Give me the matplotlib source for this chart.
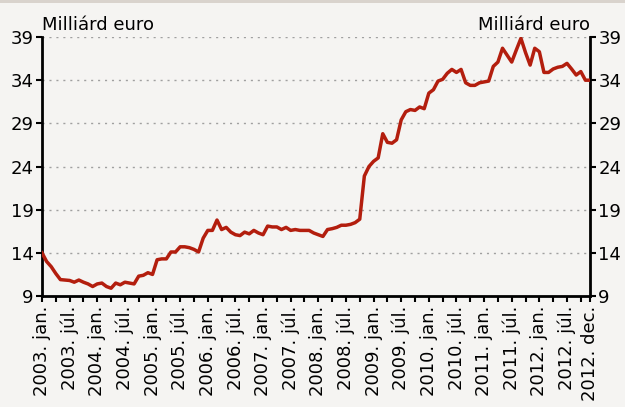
import matplotlib
matplotlib.use("Agg")
import matplotlib.pyplot as plt
from matplotlib.patches import Rectangle

months_hu = ["jan.", "júl."]
years = list(range(2003, 2013))
values = [
    14.0, 13.0, 12.4, 11.6, 10.9, 10.85, 10.8, 10.6, 10.85, 10.6, 10.4, 10.1,
    10.4, 10.5, 10.1, 9.9, 10.5, 10.3, 10.6, 10.5, 10.4, 11.3, 11.4, 11.7,
    11.5, 13.2, 13.3, 13.3, 14.1, 14.1, 14.7, 14.7, 14.6, 14.4, 14.1, 15.7,
    16.6, 16.6, 17.8, 16.7, 16.95, 16.4, 16.1, 16.0, 16.4, 16.2, 16.6, 16.3,
    16.1, 17.1, 17.0, 17.0, 16.7, 16.95, 16.6, 16.7, 16.6, 16.6, 16.6, 16.3,
    16.1, 15.9, 16.7, 16.8, 16.95, 17.2, 17.2, 17.3, 17.5, 17.9, 22.9, 24.0,
    24.6, 25.0, 27.8, 26.8, 26.7, 27.1, 29.4, 30.35, 30.6, 30.5, 30.9, 30.7,
    32.5, 32.9, 33.9, 34.1, 34.8, 35.25, 34.9, 35.25, 33.7, 33.4, 33.4, 33.7,
    33.8, 33.9, 35.6, 36.1, 37.7, 36.9, 36.1, 37.5, 38.85, 37.2, 35.75, 37.7,
    37.3, 34.9, 34.9, 35.3, 35.5, 35.6, 35.95, 35.3, 34.6, 35.0, 34.0, 34.0,
]
y_ticks = [9, 14, 19, 24, 29, 34, 39]
unit_label = "Milliárd euro"

tick_labels = []
tick_pos = []
for i, yr in enumerate(years):
    for j, m in enumerate(months_hu):
        tick_pos.append(i * 12 + j * 6)
        tick_labels.append(f"{yr}. {m}")
tick_pos.append(len(values) - 1)
tick_labels.append("2012. dec.")
minor_pos = list(range(3, len(values), 6))

bg = "#f5f4f2"
fig = plt.figure(figsize=(6.25, 4.07), dpi=100, facecolor=bg)
fig.patches.append(Rectangle((0, 0.992), 1, 0.008, transform=fig.transFigure,
                             facecolor="#d9d3cd", edgecolor="none"))
ax = fig.add_axes([0.0672, 0.2727, 0.944 - 0.0672, 0.909 - 0.2727])
ax.set_facecolor(bg)

x = list(range(len(values)))
ax.plot(x, values, color="#b31e0e", lw=2.5, solid_joinstyle="round", zorder=3)

ax.set_xlim(0, len(values) - 1)
ax.set_ylim(9, 39)
ax.set_yticks(y_ticks)
for yv in y_ticks[1:]:
    ax.axhline(yv, color="#a0a0a0", lw=1.0, ls=(0, (1.5, 3.5)), zorder=1)

ax.set_xticks(tick_pos)
ax.set_xticklabels(tick_labels, rotation=90, fontsize=13)
ax.set_xticks(minor_pos, minor=True)

ax.tick_params(axis="x", which="both", direction="out", length=4, width=1.5, pad=3)
ax.tick_params(axis="y", which="both", direction="out", length=4, width=1.5,
               left=True, right=True, labelleft=True, labelright=True,
               labelsize=13, pad=2)

for s in ["left", "right", "bottom"]:
    ax.spines[s].set_linewidth(2)
    ax.spines[s].set_color("black")
ax.spines["top"].set_visible(False)

ax.text(0.0, 1.01, unit_label, transform=ax.transAxes, ha="left", va="bottom", fontsize=13)
ax.text(1.0, 1.01, unit_label, transform=ax.transAxes, ha="right", va="bottom", fontsize=13)

fig.savefig("out.png", dpi=100, facecolor=bg)
